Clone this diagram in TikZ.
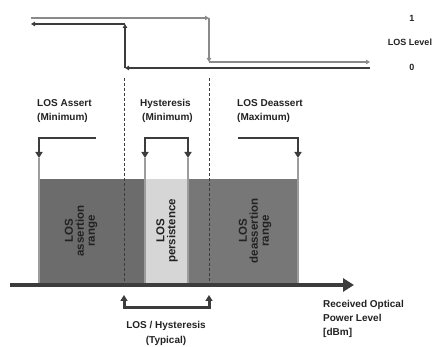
\documentclass[tikz,border=0pt]{standalone}
\usepackage{fontspec}
\setmainfont{Liberation Sans}
\usetikzlibrary{arrows.meta}
\definecolor{lgray}{HTML}{8A8A8A}
\definecolor{dgray}{HTML}{3C3C3C}
\definecolor{regA}{HTML}{6C6C6C}
\definecolor{regB}{HTML}{777777}
\definecolor{regP}{HTML}{D6D6D6}
\definecolor{sepc}{HTML}{9C9C9C}
\definecolor{txt}{HTML}{222222}
\tikzset{tipb/.tip={Triangle[length=6pt,width=7pt]}}
\begin{document}
\begin{tikzpicture}[x=1pt,y=-1pt,
  lbl/.style={font=\bfseries\fontsize{10}{14}\selectfont, text=txt, align=left, inner sep=0pt},
  small/.style={font=\bfseries\fontsize{9}{10}\selectfont, text=txt, inner sep=0pt},
  rot/.style={font=\bfseries\fontsize{11.5}{11}\selectfont, text=txt, align=center, rotate=90, inner sep=0pt},
  levlight/.style={lgray, line width=1.6pt, -{Triangle[length=4pt,width=4.5pt]}},
  levdark/.style={dgray, line width=1.6pt, -{Triangle[length=4pt,width=4.5pt]}},
  brack/.style={dgray, line width=2.6pt},
  sepline/.style={sepc, line width=2pt},
  dline/.style={dgray, line width=0.6pt, dash pattern=on 3pt off 2pt}]
\useasboundingbox (0,0) rectangle (440,347);

% level lines
\coordinate (l1) at (31,18);
\coordinate (l2) at (209,18);
\coordinate (l3) at (209,62);
\coordinate (l4) at (370,62);
\coordinate (d1) at (370,68);
\coordinate (d2) at (125,68);
\coordinate (d3) at (125,24);
\coordinate (d4) at (31,24);
\draw[levlight] (l1) -- (l2);
\draw[levlight] (l2) -- (l3);
\draw[levlight] (l3) -- (l4);
\draw[levdark] (d1) -- (d2);
\draw[levdark] (d2) -- (d3);
\draw[levdark] (d3) -- (d4);
\node[small] (one) at (412,18) {1};
\node[small] (lev) at (410,42) {LOS Level};
\node[small] (zero) at (412,67) {0};

% regions
\fill[regA] (39,179) rectangle (145,284);
\fill[regP] (145,179) rectangle (188,284);
\fill[regB] (188,179) rectangle (298,284);
\coordinate (s1t) at (39,158);  \coordinate (s1b) at (39,284);
\coordinate (s2t) at (145,158); \coordinate (s2b) at (145,284);
\coordinate (s3t) at (188,158); \coordinate (s3b) at (188,284);
\coordinate (s4t) at (298,158); \coordinate (s4b) at (298,284);
\draw[sepline] (s1t) -- (s1b);
\draw[sepline] (s2t) -- (s2b);
\draw[sepline] (s3t) -- (s3b);
\draw[sepline] (s4t) -- (s4b);

% dashed lines
\coordinate (h1t) at (124,78); \coordinate (h1b) at (124,283);
\coordinate (h2t) at (209,78); \coordinate (h2b) at (209,283);
\draw[dline] (h1t) -- (h1b);
\draw[dline] (h2t) -- (h2b);

% axis
\coordinate (ax0) at (10,285);
\coordinate (ax1) at (354,285);
\draw[dgray, line width=3.5pt, -{Triangle[length=11pt,width=13pt]}] (ax0) -- (ax1);

% top brackets
\coordinate (a0) at (96,138);
\draw[brack, -{tipb}] (a0) -| (s1t);
\coordinate (hm) at (166,138);
\draw[brack, {tipb}-{tipb}] (s2t) |- (hm) -| (s3t);
\coordinate (e0) at (238,138);
\draw[brack, -{tipb}] (e0) -| (s4t);

% bottom bracket
\coordinate (b1) at (124,295);
\coordinate (b2) at (209,295);
\coordinate (bm) at (166,308);
\draw[brack, line width=3pt, {tipb}-{tipb}] (b1) |- (bm) -| (b2);

% labels
\node[lbl, anchor=north west] (assert) at (37,99) {LOS Assert\\(Minimum)};
\node[lbl, anchor=north west] (hyst) at (140,99) {Hysteresis\\\hspace{2pt}(Minimum)};
\node[lbl, anchor=north west] (deass) at (237,99) {LOS Deassert\\(Maximum)};
\node[rot] (ra) at (81,231) {LOS\\assertion\\range};
\node[rot] (rp) at (167,231) {LOS\\persistence};
\node[rot] (rd) at (255,231) {LOS\\deassertion\\range};
\node[lbl, align=center, anchor=north, font=\bfseries\fontsize{10}{15}\selectfont] (typ) at (166,321) {LOS / Hysteresis\\(Typical)};
\node[lbl, anchor=north west] (rx) at (323,300) {Received Optical\\Power Level\\{[dBm]}};
\end{tikzpicture}
\end{document}
